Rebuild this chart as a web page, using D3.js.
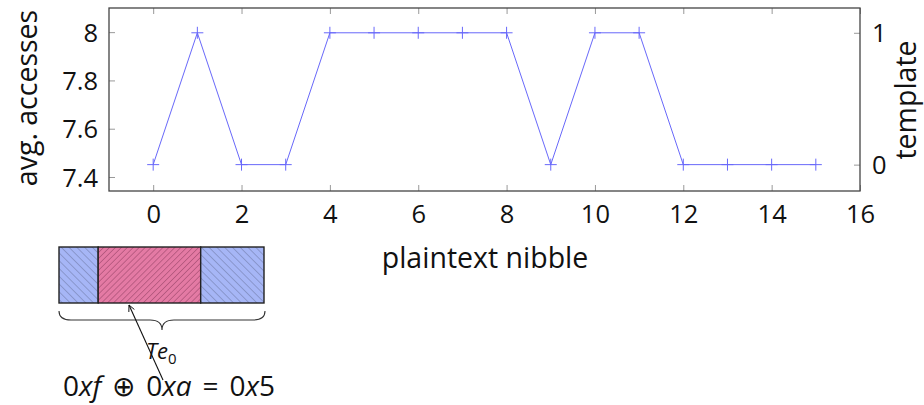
<!DOCTYPE html>
<html>
<head>
<meta charset="utf-8">
<script src="https://cdn.jsdelivr.net/npm/d3@7"></script>
<style>
  body { margin: 0; background: #fff; }
  svg text { font-family: "Open Sans", "Noto Sans", sans-serif; fill: #111; }
</style>
</head>
<body>
<div id="chart"></div>
<script>
// data
var nibbles = [0,1,2,3,4,5,6,7,8,9,10,11,12,13,14,15];
var template = [0,1,0,0,1,1,1,1,1,0,1,1,0,0,0,0];
var xTicks = [0,2,4,6,8,10,12,14,16];
var yTicks = [7.4,7.6,7.8,8];
var y2Ticks = [0,1];
// block segments below the plot (widths in px-ish units)
var segments = [
  {name: "left",  w: 39,  kind: "blue"},
  {name: "mid",   w: 102, kind: "pink"},
  {name: "right", w: 63,  kind: "blue"}
];

var W = 924, H = 405;
var margin = {top: 8, right: 64, bottom: 214, left: 109};
var width = W - margin.left - margin.right,
    height = H - margin.top - margin.bottom;

var svg = d3.select("#chart").append("svg")
    .attr("width", W).attr("height", H);

var defs = svg.append("defs");
function hatch(id, bg, angle, gap, col) {
  var p = defs.append("pattern").attr("id", id)
      .attr("patternUnits", "userSpaceOnUse")
      .attr("width", gap).attr("height", gap)
      .attr("patternTransform", "rotate(" + angle + ")");
  p.append("rect").attr("width", gap).attr("height", gap).attr("fill", bg);
  p.append("line").attr("x1", 0).attr("y1", 0).attr("x2", 0).attr("y2", gap)
      .attr("stroke", col).attr("stroke-width", 0.9);
}
hatch("hblue", "#a6b6f6", -45, 5.5, "#66709a");
hatch("hpink", "#e47aa4", 45, 4.2, "#8a3a5c");

var g = svg.append("g").attr("transform", "translate(" + margin.left + "," + margin.top + ")");

var x = d3.scaleLinear().domain([-1, 16]).range([0, width]);
var y = d3.scaleLinear().domain([7.342, 8.1]).range([height, 0]);
var y2 = d3.scaleLinear().domain([-0.2, 1.188]).range([height, 0]);

var tickCol = "#999";
// bottom axis
var xa = g.append("g").attr("transform", "translate(0," + height + ")")
    .call(d3.axisBottom(x).tickValues(xTicks).tickSize(-6).tickPadding(0).tickFormat(d3.format("d")));
// top mirrored ticks
var xt = g.append("g")
    .call(d3.axisTop(x).tickValues(xTicks).tickSize(-6).tickFormat(""));
var ya = g.append("g")
    .call(d3.axisLeft(y).tickValues(yTicks).tickSize(-6).tickPadding(11).tickFormat(d3.format("~g")));
var y2a = g.append("g").attr("transform", "translate(" + width + ",0)")
    .call(d3.axisRight(y2).tickValues(y2Ticks).tickSize(-6).tickPadding(12).tickFormat(d3.format("d")));

[xa, xt, ya, y2a].forEach(function(a) {
  a.select(".domain").remove();
  a.selectAll(".tick line").attr("stroke", tickCol).attr("stroke-width", 1);
  a.selectAll(".tick text").style("font-size", "25.5px").attr("fill", "#111");
});
xa.selectAll(".tick text").attr("dy", "1.0em").attr("y", 6);
ya.selectAll(".tick text").attr("dy", "0.36em");
y2a.selectAll(".tick text").attr("dy", "0.36em");

g.append("rect").attr("width", width).attr("height", height)
    .attr("fill", "none").attr("stroke", "#444").attr("stroke-width", 1.3);

var lineCol = "#6868fa";
var pts = nibbles.map(function(d, i) { return [d, template[i]]; });
g.append("path").datum(pts)
    .attr("fill", "none").attr("stroke", lineCol).attr("stroke-width", 1)
    .attr("d", d3.line().x(function(d) { return x(d[0]); }).y(function(d) { return y2(d[1]); }));
var ms = 6;
g.selectAll(".mk").data(pts).enter().append("path").attr("class", "mk")
    .attr("stroke", lineCol).attr("stroke-width", 1).attr("fill", "none")
    .attr("d", function(d) {
      var cx = x(d[0]), cy = y2(d[1]);
      return "M" + (cx - ms) + "," + cy + "H" + (cx + ms) + "M" + cx + "," + (cy - ms) + "V" + (cy + ms);
    });

// axis titles
svg.append("text").attr("transform", "translate(37," + (margin.top + 90) + ") rotate(-90)")
    .attr("text-anchor", "middle").style("font-size", "28.5px").text("avg. accesses");
svg.append("text").attr("transform", "translate(916," + 100 + ") rotate(-90)")
    .attr("text-anchor", "middle").style("font-size", "28.5px").text("template");
svg.append("text").attr("x", 485).attr("y", 268)
    .attr("text-anchor", "middle").style("font-size", "28.5px").text("plaintext nibble");

// block diagram
var bx = d3.scaleLinear().domain([0, d3.sum(segments, function(d) { return d.w; })]).range([59, 264]);
var acc = 0;
segments.forEach(function(s) { s.x0 = acc; acc += s.w; s.x1 = acc; });
var blk = svg.append("g");
blk.selectAll("rect").data(segments).enter().append("rect")
    .attr("x", function(d) { return bx(d.x0); })
    .attr("width", function(d) { return bx(d.x1) - bx(d.x0); })
    .attr("y", 247).attr("height", 56)
    .attr("fill", function(d) { return d.kind == "blue" ? "url(#hblue)" : "url(#hpink)"; })
    .attr("stroke", "#222").attr("stroke-width", 1.4);

// brace
var bl = 59, br = 265, by = 311, bm = 162;
blk.append("path").attr("fill", "none").attr("stroke", "#333").attr("stroke-width", 1.1)
    .attr("d", "M" + bl + "," + by + " Q" + bl + "," + (by + 9) + " " + (bl + 12) + "," + (by + 9) +
      " H" + (bm - 12) + " Q" + bm + "," + (by + 9) + " " + bm + "," + (by + 19) +
      " Q" + bm + "," + (by + 9) + " " + (bm + 12) + "," + (by + 9) +
      " H" + (br - 12) + " Q" + br + "," + (by + 9) + " " + br + "," + by);

// arrow
var ax0 = 163, ay0 = 380, ax1 = 129, ay1 = 305;
blk.append("line").attr("x1", ax0).attr("y1", ay0).attr("x2", ax1).attr("y2", ay1)
    .attr("stroke", "#111").attr("stroke-width", 1.1);
var ang = Math.atan2(ay1 - ay0, ax1 - ax0), hl = 7;
blk.append("path").attr("fill", "none").attr("stroke", "#111").attr("stroke-width", 1)
    .attr("d", "M" + (ax1 - hl * Math.cos(ang - 0.45)) + "," + (ay1 - hl * Math.sin(ang - 0.45)) +
      " L" + ax1 + "," + ay1 + " L" + (ax1 - hl * Math.cos(ang + 0.45)) + "," + (ay1 - hl * Math.sin(ang + 0.45)));

var te = blk.append("text").attr("x", 146).attr("y", 359).style("font-size", "22px");
te.append("tspan").style("font-style", "italic").text("Te");
te.append("tspan").attr("dy", 5).style("font-size", "15px").text("0");

var eq = blk.append("text").attr("x", 63).attr("y", 396).style("font-size", "28px");
eq.append("tspan").text("0");
eq.append("tspan").style("font-style", "italic").text("xf");
eq.append("tspan").attr("dx", 11).text("\u2295");
eq.append("tspan").attr("dx", 11).text("0");
eq.append("tspan").style("font-style", "italic").text("xa");
eq.append("tspan").attr("dx", 11).text("=");
eq.append("tspan").attr("dx", 11).text("0");
eq.append("tspan").style("font-style", "italic").text("x");
eq.append("tspan").text("5");
</script>
</body>
</html>
